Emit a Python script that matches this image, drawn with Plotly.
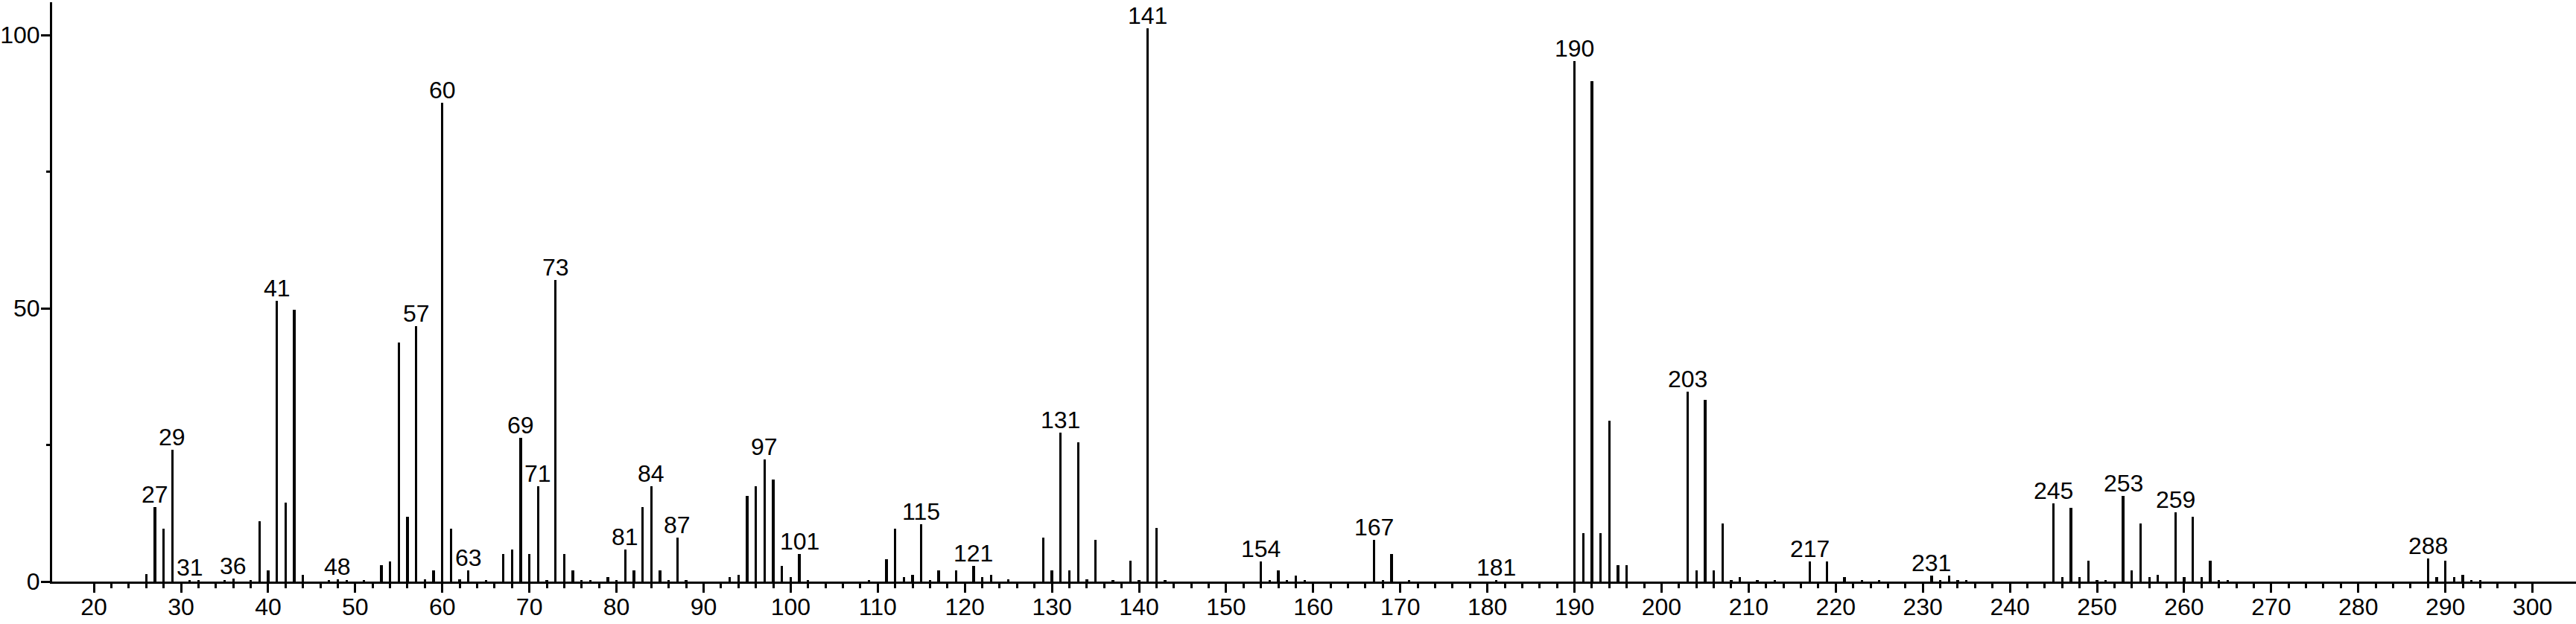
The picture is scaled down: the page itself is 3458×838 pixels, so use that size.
"""Mass spectrum stick plot — relative abundance vs m/z with labelled peaks."""

import plotly.graph_objects as go

# m/z values and relative intensities
mz = [
    26, 27, 28, 29, 31, 32, 35, 36, 38, 39, 40, 41, 42, 43, 44, 47, 48, 49, 51,
    53, 54, 55, 56, 57, 58, 59, 60, 61, 62, 63, 65, 67, 68, 69, 70, 71, 72, 73,
    74, 75, 76, 77, 79, 80, 81, 82, 83, 84, 85, 86, 87, 88, 93, 94, 95, 96, 97,
    98, 99, 100, 101, 102, 109, 111, 112, 113, 114, 115, 116, 117, 119, 121,
    122, 123, 125, 129, 130, 131, 132, 133, 134, 135, 137, 139, 140, 141, 142,
    143, 154, 155, 156, 157, 158, 159, 167, 168, 169, 171, 181, 190, 191, 192,
    193, 194, 195, 196, 203, 204, 205, 206, 207, 208, 209, 211, 213, 217, 219,
    221, 223, 225, 231, 232, 233, 234, 235, 245, 246, 247, 248, 249, 250, 251,
    253, 254, 255, 256, 257, 259, 260, 261, 262, 263, 264, 265, 288, 289, 290,
    291, 292, 293, 294,
]
intensity = [
    1.3, 13.6, 9.7, 24.1, 0.3, 0.3, 0.3, 0.5, 0.3, 11.0, 2.0, 51.4, 14.4, 49.7, 1.2, 0.3, 0.4, 0.3, 0.3,
    3.0, 3.7, 43.8, 11.9, 46.7, 0.4, 2.1, 87.6, 9.7, 0.4, 2.0, 0.3, 5.0, 5.9, 26.3, 5.0, 17.4, 0.3, 55.2,
    5.0, 2.0, 0.3, 0.3, 0.8, 0.3, 5.9, 2.0, 13.6, 17.4, 2.0, 0.3, 8.0, 0.3, 0.8, 1.2, 15.7, 17.4, 22.4,
    18.7, 2.9, 0.8, 5.0, 0.3, 0.3, 4.1, 9.7, 0.8, 1.2, 10.5, 0.3, 2.0, 2.0, 2.9,
    0.8, 1.2, 0.4, 8.1, 2.1, 27.2, 2.1, 25.5, 0.4, 7.6, 0.3, 3.8, 0.3, 101.2, 9.8,
    0.3, 3.7, 0.3, 2.0, 0.3, 1.1, 0.3, 7.6, 0.3, 5.0, 0.3, 0.3, 95.3, 8.8, 91.5,
    8.8, 29.4, 3.0, 3.0, 34.8, 2.0, 33.2, 2.0, 10.6, 0.3, 0.8, 0.3, 0.3, 3.7, 3.7,
    0.8, 0.3, 0.3, 1.1, 0.3, 1.1, 0.3, 0.3, 14.3, 0.8, 13.5, 0.8, 3.8, 0.3, 0.3,
    15.7, 2.1, 10.6, 0.8, 1.2, 12.7, 0.8, 11.9, 0.8, 3.8, 0.3, 0.3, 4.2, 0.8, 3.8,
    0.8, 1.2, 0.3, 0.3,
]

# peaks that carry an m/z label
labelled = [27, 29, 31, 36, 41, 48, 57, 60, 63, 69, 71, 73, 81, 84, 87, 97, 101,
            115, 121, 131, 141, 154, 167, 181, 190, 203, 217, 231, 245, 253, 259, 288]

x_ticks = list(range(20, 301, 10))
x_minor = [v for v in range(22, 300, 2) if v % 10]
y_ticks = [0, 50, 100]
y_minor = [25, 75]

FONT = "Liberation Sans, Arial, sans-serif"

fig = go.Figure(go.Bar(
    x=mz,
    y=intensity,
    width=0.28,
    marker=dict(color="black", line=dict(width=0)),
    hovertemplate="m/z %{x}<br>%{y:.1f}%<extra></extra>",
))

lookup = dict(zip(mz, intensity))
for m in labelled:
    fig.add_annotation(
        x=m, y=lookup[m], text=str(m),
        showarrow=False, yanchor="bottom", yshift=-3,
        font=dict(size=32, color="black", family=FONT),
    )

fig.update_layout(
    width=3458, height=838,
    margin=dict(l=70, r=0, t=3, b=57),
    plot_bgcolor="white", paper_bgcolor="white",
    showlegend=False,
    bargap=0,
    font=dict(family=FONT, size=32, color="black"),
    xaxis=dict(
        range=[15.2, 305],
        tickvals=x_ticks,
        ticks="outside", ticklen=12, tickwidth=2.5, tickcolor="black",
        ticklabelstandoff=-8,
        minor=dict(tickvals=x_minor, ticks="outside", ticklen=6, tickwidth=2.5, tickcolor="black"),
        showline=True, linewidth=3, linecolor="black",
        showgrid=False, zeroline=False, automargin=False,
        tickfont=dict(size=32),
    ),
    yaxis=dict(
        range=[0, 106],
        tickvals=y_ticks,
        ticks="outside", ticklen=12, tickwidth=2.5, tickcolor="black",
        ticklabelstandoff=-5,
        minor=dict(tickvals=y_minor, ticks="outside", ticklen=5, tickwidth=2.5, tickcolor="black"),
        showline=True, linewidth=3, linecolor="black",
        showgrid=False, zeroline=False, automargin=False,
        tickfont=dict(size=32),
    ),
)

# drop the default body margin so the figure sits flush with the window
fig.write_html(
    "out.html",
    config={"displayModeBar": False},
    post_script="document.body.style.margin='0';",
)
